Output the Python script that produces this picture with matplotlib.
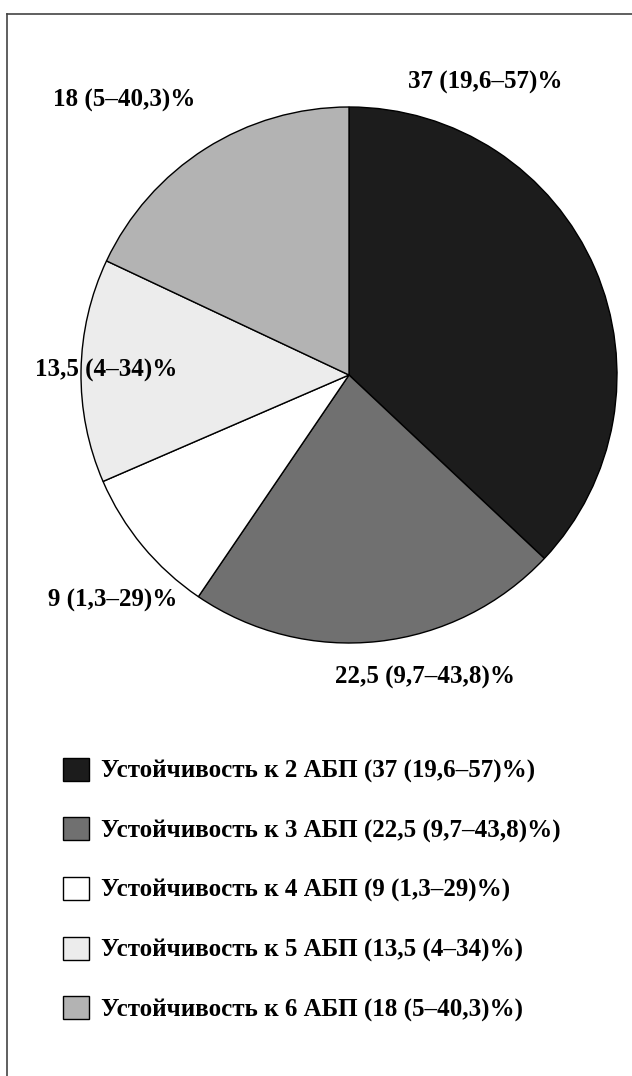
import matplotlib.pyplot as plt
from matplotlib.lines import Line2D

plt.rcParams['font.family'] = ['Liberation Serif', 'DejaVu Serif']
plt.rcParams['font.weight'] = 'bold'

# data
shares = [37, 22.5, 9, 13.5, 18]
slice_labels = ['37 (19,6–57)%', '22,5 (9,7–43,8)%', '9 (1,3–29)%',
                '13,5 (4–34)%', '18 (5–40,3)%']
legend_labels = ['Устойчивость к 2 АБП (37 (19,6–57)%)',
                 'Устойчивость к 3 АБП (22,5 (9,7–43,8)%)',
                 'Устойчивость к 4 АБП (9 (1,3–29)%)',
                 'Устойчивость к 5 АБП (13,5 (4–34)%)',
                 'Устойчивость к 6 АБП (18 (5–40,3)%)']
colors = ['#1c1c1c', '#707070', '#ffffff', '#ececec', '#b3b3b3']

W, H = 632, 1076
fig = plt.figure(figsize=(W / 100, H / 100), dpi=100)
ax = fig.add_axes([0, 0, 1, 1])

wedges, _ = ax.pie(shares, colors=colors, startangle=90, counterclock=False,
                   center=(349, H - 375), radius=268,
                   wedgeprops=dict(edgecolor='black', linewidth=1))
ax.set_xlim(0, W)
ax.set_ylim(0, H)
ax.set_aspect('equal')
ax.axis('off')

# slice label positions (pixels, from top)
label_pos = [(485, 82), (425, 677), (113, 600), (106, 370), (124, 100)]
for txt, (x, y) in zip(slice_labels, label_pos):
    ax.text(x, H - y, txt, ha='center', va='center', fontsize=18,
            fontweight='bold')

# legend
leg = ax.legend(wedges, legend_labels, loc='upper left',
                bbox_to_anchor=(40 / W, 1 - 735 / H), frameon=False,
                fontsize=18, handlelength=1.04, handleheight=1.04,
                handletextpad=0.5, labelspacing=1.37)

# frame: top and left edges only
ax.add_line(Line2D([7, W], [H - 14, H - 14], color='#444444', linewidth=1.2))
ax.add_line(Line2D([7, 7], [0, H - 14], color='#444444', linewidth=1.2))

fig.savefig('out.png', dpi=100)
